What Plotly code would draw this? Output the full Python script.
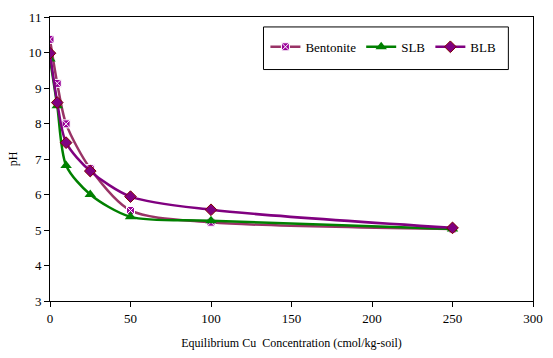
import plotly.graph_objects as go

conc = [0, 4.5, 10, 25, 50, 100, 250]
bentonite = [10.37, 9.13, 7.99, 6.73, 5.55, 5.22, 5.03]
slb = [9.82, 8.50, 6.82, 6.00, 5.37, 5.26, 5.03]
blb = [9.98, 8.59, 7.46, 6.66, 5.94, 5.57, 5.06]

serif = "'Times New Roman', 'Liberation Serif', 'DejaVu Serif', serif"
font = dict(family=serif, size=13, color="black")

fig = go.Figure()
fig.add_trace(go.Scatter(
    x=conc, y=bentonite, name="Bentonite", mode="lines+markers",
    line=dict(color="#993366", width=2.5, shape="spline", smoothing=0.8),
    marker=dict(symbol="square-x", size=8, color="#990099", line=dict(color="white", width=1))))
fig.add_trace(go.Scatter(
    x=conc, y=slb, name="SLB", mode="lines+markers",
    line=dict(color="#008000", width=2.5, shape="spline", smoothing=0.8),
    marker=dict(symbol="triangle-up", size=10, color="#008000")))
fig.add_trace(go.Scatter(
    x=conc, y=blb, name="BLB", mode="lines+markers",
    line=dict(color="#800080", width=2.5, shape="spline", smoothing=0.8),
    marker=dict(symbol="diamond", size=9, color="#800080", line=dict(color="#800000", width=1))))

fig.update_layout(
    width=553, height=358,
    margin=dict(l=50, r=10, t=17, b=54),
    paper_bgcolor="white", plot_bgcolor="white",
    font=font,
    showlegend=True,
    legend=dict(orientation="h", x=0.446, y=0.895, xanchor="left", yanchor="middle",
                borderwidth=0, bgcolor="rgba(0,0,0,0)",
                font=dict(family=serif, size=13), itemwidth=30, tracegroupgap=0),
    shapes=[dict(type="rect", xref="paper", yref="paper", x0=0.442, x1=0.949, y0=0.815, y1=0.965,
                 line=dict(color="black", width=1), fillcolor="white", layer="below")],
    xaxis=dict(range=[0, 300], dtick=50, showgrid=False, zeroline=False,
               showline=True, linecolor="black", linewidth=1, mirror=True,
               ticks="outside", ticklen=5, tickcolor="black",
               tickfont=dict(family=serif, size=13),
               title=dict(text="Equilibrium Cu  Concentration (cmol/kg-soil)", font=dict(family=serif, size=12), standoff=14)),
    yaxis=dict(range=[3, 11], dtick=1, showgrid=False, zeroline=False,
               showline=True, linecolor="black", linewidth=1, mirror=True,
               ticks="outside", ticklen=5, tickcolor="black",
               tickfont=dict(family=serif, size=13),
               title=dict(text="pH", font=dict(family=serif, size=12), standoff=8)),
)
fig.write_html("out.html")
